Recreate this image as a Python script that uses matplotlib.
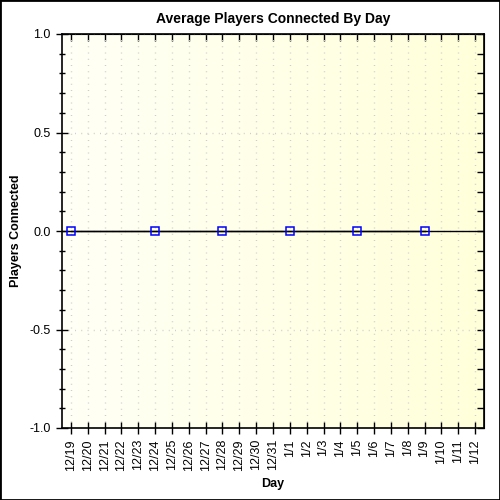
import matplotlib.pyplot as plt
import numpy as np
from matplotlib.patches import Rectangle
from matplotlib.colors import LinearSegmentedColormap

plt.rcParams['font.family'] = ['Liberation Sans', 'DejaVu Sans']

days = ['12/19', '12/20', '12/21', '12/22', '12/23', '12/24', '12/25', '12/26',
        '12/27', '12/28', '12/29', '12/30', '12/31', '1/1', '1/2', '1/3', '1/4',
        '1/5', '1/6', '1/7', '1/8', '1/9', '1/10', '1/11', '1/12']
point_days = ['12/19', '12/24', '12/28', '1/1', '1/5', '1/9']
players = [0, 0, 0, 0, 0, 0]

fig = plt.figure(figsize=(5, 5), dpi=100)
ax = fig.add_axes([0.124, 0.144, 0.844, 0.788])

# yellow gradient background
grad = np.linspace(0, 1, 256).reshape(1, -1)
cmap = LinearSegmentedColormap.from_list('bg', ['#fffff6', '#ffffda'])
ax.imshow(grad, cmap=cmap, aspect='auto', extent=[0, 1, 0, 1],
          transform=ax.transAxes, zorder=0)

x = np.arange(len(days))
px = [days.index(d) for d in point_days]

ax.axhline(0, color='black', linewidth=1, zorder=3)
ax.plot(px, players, color='black', linewidth=1, marker='s', markersize=6,
        markerfacecolor='none', markeredgecolor='#0000ff', markeredgewidth=1.1, zorder=4)

ax.set_xlim(-0.53, len(days) - 0.47)
ax.set_ylim(-1.0, 1.0)
ax.set_xticks(x)
ax.set_xticklabels(days, rotation=90, fontsize=9)
yt = [-1.0, -0.5, 0.0, 0.5, 1.0]
ax.set_yticks(yt)
ax.set_yticklabels(['-1.0', '-0.5', '0.0', '0.5', '1.0'], fontsize=9)
ax.set_yticks(np.arange(-1.0, 1.01, 0.1), minor=True)

ax.grid(axis='x', color='#cccccc', linestyle=(0, (0.7, 3.8)), linewidth=1)
ax.grid(axis='y', which='major', color='#cccccc', linestyle=(0, (0.7, 3.8)), linewidth=1)

ax.tick_params(axis='both', which='major', direction='inout', length=9, width=1,
               colors='black')
ax.tick_params(axis='y', which='minor', direction='inout', length=4, width=1)
for s in ax.spines.values():
    s.set_linewidth(1.2)

# inward ticks on top and right
top = ax.secondary_xaxis('top')
top.set_xticks(x)
top.tick_params(direction='in', length=5, width=1, labeltop=False)
right = ax.secondary_yaxis('right')
right.set_yticks(np.arange(-1.0, 1.01, 0.1))
right.tick_params(direction='in', length=5, width=1, labelright=False)

ax.set_title('Average Players Connected By Day', fontsize=10, fontweight='bold', pad=8)
ax.set_xlabel('Day', fontsize=9, fontweight='bold')
ax.set_ylabel('Players Connected', fontsize=9, fontweight='bold')
ax.xaxis.set_label_coords(0.5, -0.127)
ax.yaxis.set_label_coords(-0.095, 0.5)

fig.patches.append(Rectangle((0, 0), 1, 1, transform=fig.transFigure, fill=False,
                             edgecolor='black', linewidth=2))

fig.savefig('out.png', dpi=100, facecolor='white')
